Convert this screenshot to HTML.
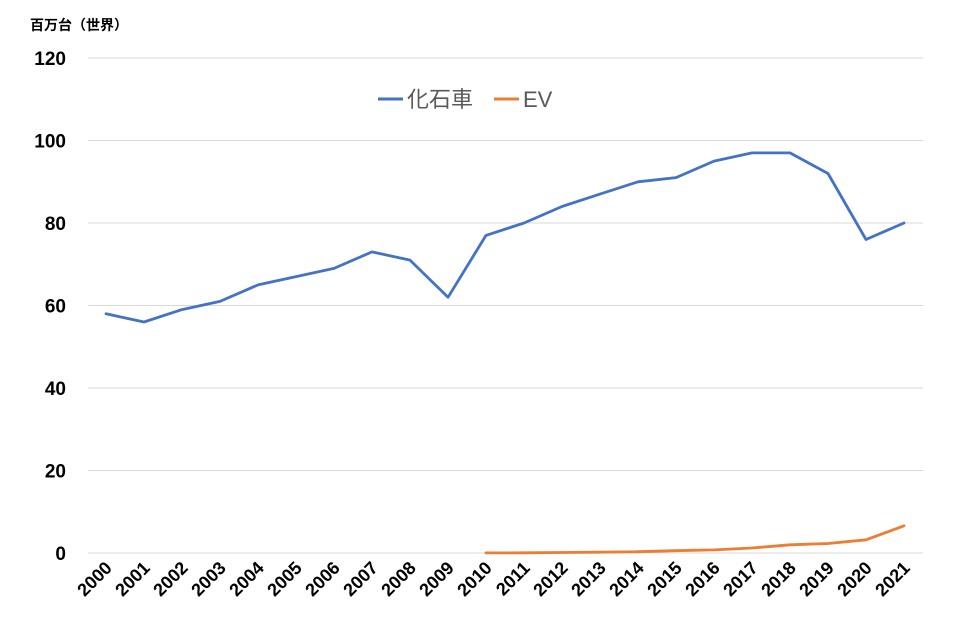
<!DOCTYPE html>
<html><head><meta charset="utf-8"><style>
body{margin:0;background:#fff;}
svg{display:block;font-family:"Liberation Sans","Noto Sans CJK JP",sans-serif;}
</style></head><body>
<svg id="chart" width="959" height="637" viewBox="0 0 959 637">
<text x="30" y="30" font-size="14" font-weight="bold" fill="#000">百万台（世界）</text>
<g id="grid"></g><g id="yt"></g><g id="xt"></g><g id="lines"></g>
<g>
<line x1="378" y1="99" x2="403" y2="99" stroke="#4472C4" stroke-width="3"/>
<text x="407" y="107" font-size="22" fill="#595959">化石車</text>
<line x1="494" y1="99" x2="519" y2="99" stroke="#ED7D31" stroke-width="3"/>
<text x="523" y="107" font-size="22" fill="#595959">EV</text>
</g>
</svg>
<script>
const years=["2000","2001","2002","2003","2004","2005","2006","2007","2008","2009","2010","2011","2012","2013","2014","2015","2016","2017","2018","2019","2020","2021"];
const fossil=[58,56,59,61,65,67,69,73,71,62,77,80,84,87,90,91,95,97,97,92,76,80];
const ev=[null,null,null,null,null,null,null,null,null,null,0.02,0.05,0.12,0.2,0.32,0.55,0.75,1.2,2.0,2.3,3.2,6.6];
const yTicks=[0,20,40,60,80,100,120];
const NS="http://www.w3.org/2000/svg";
const x0=106,x1=904,yb=553,yt=58,ymax=120;
const X=i=>x0+(x1-x0)*i/(years.length-1);
const Y=v=>yb-(yb-yt)*v/ymax;
function mk(t,a,p){const e=document.createElementNS(NS,t);for(const k in a)e.setAttribute(k,a[k]);p.appendChild(e);return e;}
const grid=document.getElementById('grid'),ytg=document.getElementById('yt'),xtg=document.getElementById('xt'),lg=document.getElementById('lines');
yTicks.forEach(v=>{
 const l=mk('line',{x1:88,x2:923,y1:Y(v),y2:Y(v),stroke:'#d9d9d9','stroke-width':1},grid);
 
 
 const t=mk('text',{x:66,y:Y(v)+7,'text-anchor':'end','font-size':19,'font-weight':'bold',fill:'#000'},ytg);
 t.textContent=v;
 
 
});
years.forEach((y,i)=>{
 const cx=X(i)+7,cy=569;
 const t=mk('text',{x:cx,y:cy,'text-anchor':'end','font-size':18,'font-weight':'bold',fill:'#000',transform:`rotate(-45 ${cx} ${cy})`},xtg);
 t.textContent=y;
 
 
});
function line(arr,color,name){
 const pts=[];arr.forEach((v,i)=>{if(v!==null)pts.push(X(i).toFixed(1)+','+Y(v).toFixed(1));});
 const p=mk('polyline',{points:pts.join(' '),fill:'none',stroke:color,'stroke-width':2.8,'stroke-linejoin':'round','stroke-linecap':'round'},lg);
 
 
}
line(fossil,'#4472C4','fossil-car-line');
line(ev,'#ED7D31','ev-line');
</script>
</body></html>
